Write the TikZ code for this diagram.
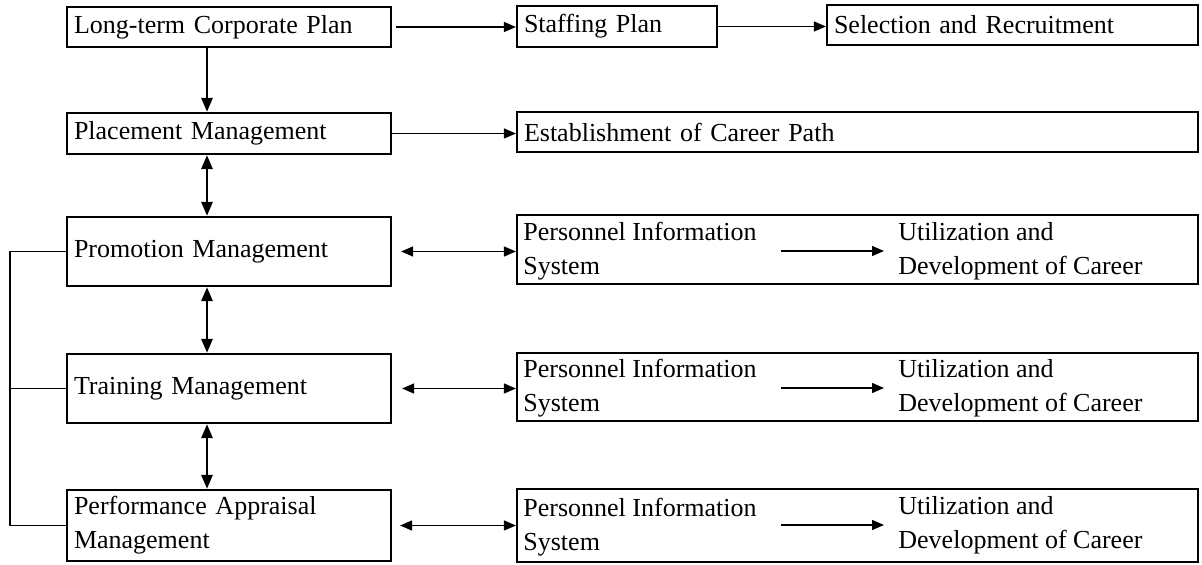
\documentclass[tikz,border=0pt]{standalone}
\usepackage{fontspec}
\setmainfont{Liberation Serif}
\usetikzlibrary{arrows.meta}
\begin{document}
\begin{tikzpicture}[x=0.5pt,y=-0.5pt,
  font=\fontsize{13pt}{17pt}\selectfont,
  frame/.style={draw, line width=1.1pt, inner xsep=3.5pt, inner ysep=0pt, align=left},
  lbox/.style={frame, text width=155pt},
  plain/.style={inner sep=0pt, align=left},
  thin/.style={line width=0.7pt, -{Triangle[length=6pt,width=5pt]}},
  both/.style={line width=0.7pt, {Triangle[length=6pt,width=5pt]}-{Triangle[length=6pt,width=5pt]}},
  thick/.style={line width=1.4pt, -{Triangle[length=7pt,width=5.5pt]}},
  thickboth/.style={line width=1.4pt, {Triangle[length=7pt,width=5.5pt]}-{Triangle[length=7pt,width=5.5pt]}},
  loop/.style={line width=0.9pt}]
\useasboundingbox (0,0) rectangle (1202,565);

% left column
\node[lbox, minimum height=20pt]   (lt)    at (229,27)    {Long-term Corporate Plan};
\node[lbox, minimum height=20.5pt] (place) at (229,133.5) {Placement Management};
\node[lbox, minimum height=34.5pt] (prom)  at (229,251.5) {Promotion Management};
\node[lbox, minimum height=34.5pt] (train) at (229,388.5) {Training Management};
\node[lbox, minimum height=35.5pt] (perf)  at (229,525.5) {Performance Appraisal\\Management};

% top rows on the right
\node[frame, text width=93pt, minimum height=20.5pt]   (staff) at (617,26.5)  {Staffing Plan};
\node[frame, text width=178.5pt, minimum height=20pt]  (sel)   at (1012.5,25) {Selection and Recruitment};
\node[frame, text width=333.5pt, minimum height=20pt]  (est)   at (857.5,132) {Establishment of Career Path};

% information system rows
\node[frame, minimum width=340.5pt, minimum height=34.5pt] (pbox1) at (857.5,249.5) {};
\node[frame, minimum width=340.5pt, minimum height=34pt]   (pbox2) at (857.5,387)   {};
\node[frame, minimum width=340.5pt, minimum height=36.5pt] (pbox3) at (857.5,525.5) {};

\node[plain, anchor=west] (pis1)  at (523,251) {Personnel Information\\System};
\node[plain, anchor=west] (util1) at (898,251) {Utilization and\\Development of Career};
\node[plain, anchor=west] (pis2)  at (523,388) {Personnel Information\\System};
\node[plain, anchor=west] (util2) at (898,388) {Utilization and\\Development of Career};
\node[plain, anchor=west] (pis3)  at (523,527) {Personnel Information\\System};
\node[plain, anchor=west] (util3) at (898,525) {Utilization and\\Development of Career};

% vertical chain
\coordinate (vx) at (207,0);
\draw[thick]     (lt.south -| vx)    -- (place.north -| vx);
\draw[thickboth] (place.south -| vx) -- (prom.north -| vx);
\draw[thickboth] (prom.south -| vx)  -- (train.north -| vx);
\draw[thickboth] (train.south -| vx) -- (perf.north -| vx);

% horizontal links
\draw[thin, shorten <=2pt] (lt.east) -- (lt.east -| staff.west);
\draw[thin] (staff.east) -- (staff.east -| sel.west);
\draw[thin] (place.east) -- (place.east -| est.west);

\draw[both, shorten <=4.5pt] (prom.east)  -- (prom.east -| pbox1.west);
\draw[both, shorten <=5pt]   (train.east) -- (train.east -| pbox2.west);
\draw[both, shorten <=4pt]   (perf.east)  -- (perf.east -| pbox3.west);

\draw[thin, shorten <=12pt, shorten >=7pt] (pis1.east) -- (pis1.east -| util1.west);
\draw[thin, shorten <=12pt, shorten >=7pt] (pis2.east) -- (pis2.east -| util2.west);
\draw[thin, shorten <=12pt, shorten >=7pt] (pis3.east |- util3.west) -- (util3.west);

% feedback loop on the left
\coordinate (fb) at (10,0);
\draw[loop] (prom.west) -- (prom.west -| fb) -- (perf.west -| fb) -- (perf.west);
\draw[loop] (train.west) -- (train.west -| fb);
\end{tikzpicture}
\end{document}
